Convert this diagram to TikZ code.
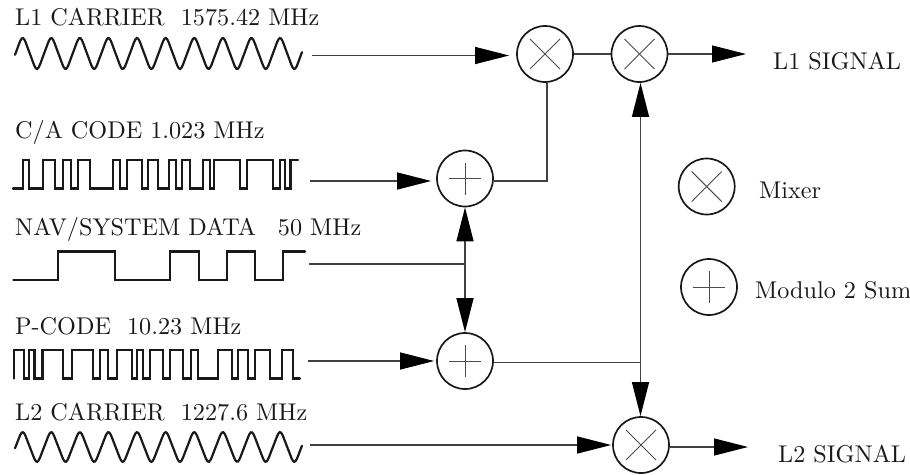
\documentclass[tikz,border=0pt]{standalone}
\usepackage{fontspec}
\setmainfont{lmroman10-regular}[Extension=.otf]
\usetikzlibrary{arrows.meta}
\tikzset{
  x=1pt,y=-1pt,
  wave/.style={line width=2.2pt,line join=miter,line cap=round,black!90},
  conn/.style={line width=1.2pt,black!75},
  arrowconn/.style={conn,-{Triangle[length=34pt,width=17pt,fill=black,color=black]}},
  junction/.style={circle,draw,line width=1.7pt,minimum size=56pt,inner sep=0pt,black!90},
  mixer/.style={junction,path picture={
    \draw[line width=1pt,black!70] ([shift={(-15pt,-15pt)}]path picture bounding box.center) -- ([shift={(15pt,15pt)}]path picture bounding box.center);
    \draw[line width=1pt,black!70] ([shift={(-15pt,15pt)}]path picture bounding box.center) -- ([shift={(15pt,-15pt)}]path picture bounding box.center);}},
  summer/.style={junction,path picture={
    \draw[line width=1pt,black!70] ([shift={(-16pt,0pt)}]path picture bounding box.center) -- ([shift={(16pt,0pt)}]path picture bounding box.center);
    \draw[line width=1pt,black!70] ([shift={(0pt,-16pt)}]path picture bounding box.center) -- ([shift={(0pt,16pt)}]path picture bounding box.center);}},
  lbl/.style={anchor=base west,inner sep=0pt,font=\fontsize{24.2}{28}\selectfont,black!90},
}
\begin{document}
\begin{tikzpicture}
\useasboundingbox[fill=white] (0,0) rectangle (910,474);
% labels
\node[lbl] (t1) at (15,25) {L1 CARRIER\ \ 1575.42 MHz};
\node[lbl] (t2) at (15,138) {C/A CODE 1.023 MHz};
\node[lbl] (t3) at (15,235) {NAV/SYSTEM DATA\ \ \hspace{6pt}50 MHz};
\node[lbl] (t4) at (15,334) {P-CODE\ \ 10.23 MHz};
\node[lbl] (t5) at (15,420) {L2 CARRIER\ \ 1227.6 MHz};
\node[lbl] (o1) at (773,69) {L1 SIGNAL};
\node[lbl] (o2) at (778,462) {L2 SIGNAL};
\node[lbl] (lg1) at (759,198) {Mixer};
\node[lbl] (lg2) at (755,298) {Modulo 2 Sum};
% waveforms
\draw[wave,smooth] plot[domain=15:302,samples=220] (\x,{53.5-14.6*(sin(12.587*(\x-15.5))-0.06*sin(37.761*(\x-15.5)))});
\draw[wave,smooth] plot[domain=15:302,samples=220] (\x,{447-14*(sin(12.587*(\x-15.5))-0.06*sin(37.761*(\x-15.5)))});
\def\H{160}\def\L{188.5}
\draw[wave] (13,\L) -- (22.7,\L) -- (22.7,\H) -- (29,\H) -- (29,\L) -- (42.7,\L) -- (42.7,\H) -- (55,\H) -- (55,\L) -- (63,\L) -- (63,\H) -- (71,\H) -- (71,\L) -- (78,\L) -- (78,\H) -- (90,\H) -- (90,\L) -- (113,\L) -- (113,\H) -- (120,\H) -- (120,\L) -- (127,\L) -- (127,\H) -- (142,\H) -- (142,\L) -- (148,\L) -- (148,\H) -- (157.7,\H) -- (157.7,\L) -- (169,\L) -- (169,\H) -- (175.7,\H) -- (175.7,\L) -- (182.3,\L) -- (182.3,\H) -- (190,\H) -- (190,\L) -- (203.3,\L) -- (203.3,\H) -- (210,\H) -- (210,\L) -- (214.3,\L) -- (214.3,\H) -- (240,\H) -- (240,\L) -- (246.7,\L) -- (246.7,\H) -- (273,\H) -- (273,\L) -- (280,\L) -- (280,\H) -- (285,\H) -- (285,\L) -- (290.5,\L) -- (290.5,\H) -- (298,\H);
\def\H{251.5}\def\L{280}
\draw[wave] (13.3,\L) -- (58.3,\L) -- (58.3,\H) -- (115,\H) -- (115,\L) -- (170,\L) -- (170,\H) -- (199,\H) -- (199,\L) -- (226.7,\L) -- (226.7,\H) -- (255,\H) -- (255,\L) -- (283.3,\L) -- (283.3,\H) -- (305,\H);
\def\H{350}\def\L{378.5}
\draw[wave] (14,\L) -- (14,\H) -- (24,\H) -- (24,\L) -- (29,\L) -- (29,\H) -- (34.5,\H) -- (34.5,\L) -- (42.5,\L) -- (42.5,\H) -- (63,\H) -- (63,\L) -- (72,\L) -- (72,\H) -- (93,\H) -- (93,\L) -- (100,\L) -- (100,\H) -- (108,\H) -- (108,\L) -- (117,\L) -- (117,\H) -- (132,\H) -- (132,\L) -- (137,\L) -- (137,\H) -- (143,\H) -- (143,\L) -- (150,\L) -- (150,\H) -- (163,\H) -- (163,\L) -- (170,\L) -- (170,\H) -- (183,\H) -- (183,\L) -- (191,\L) -- (191,\H) -- (198,\H) -- (198,\L) -- (218,\L) -- (218,\H) -- (232,\H) -- (232,\L) -- (238,\L) -- (238,\H) -- (248,\H) -- (248,\L) -- (255,\L) -- (255,\H) -- (270,\H) -- (270,\L) -- (282,\L) -- (282,\H) -- (293,\H) -- (293,\L) -- (300,\L);
% junctions
\node[mixer] (mix1) at (545,54) {};
\node[mixer] (mix2) at (639.5,54) {};
\node[mixer] (mix3) at (641,445) {};
\node[summer] (sum1) at (465,178.5) {};
\node[summer] (sum2) at (465,361) {};
\node[mixer] (lmix) at (706.7,186.5) {};
\node[summer] (lsum) at (709,287) {};
% free ends
\coordinate (s1) at (312,55.5);
\coordinate (s2) at (310,181);
\coordinate (s3) at (309,264);
\coordinate (s4) at (308,361);
\coordinate (s5) at (310,445);
\coordinate (e1) at (746,54);
\coordinate (e2) at (748,447);
\coordinate (drop) at (547,181);
\coordinate (jn) at (465,264);
\coordinate (jr) at (640.5,362.5);
% connectors
\draw[arrowconn,shorten >=7pt] (s1) -- (s1 -| mix1.west);
\draw[arrowconn,shorten >=5pt] (s2) -- (s2 -| sum1.west);
\draw[arrowconn,shorten >=2pt] (s4) -- (s4 -| sum2.west);
\draw[arrowconn,shorten >=1pt] (s5) -- (s5 -| mix3.west);
\draw[conn] (s3) -- (jn);
\draw[arrowconn] (jn) -- (sum1.south);
\draw[arrowconn] (jn) -- (sum2.north);
\draw[conn] (mix1.east) -- (mix2.west);
\draw[conn] (drop -| sum1.east) -- (drop) -- (drop |- mix1.south);
\draw[conn] (sum2.east |- jr) -- (jr);
\draw[arrowconn] (jr) -- (jr |- mix2.south);
\draw[arrowconn] (jr) -- (jr |- mix3.north);
\draw[arrowconn] (mix2.east) -- (e1);
\draw[arrowconn] (mix3.east |- e2) -- (e2);
\end{tikzpicture}
\end{document}
